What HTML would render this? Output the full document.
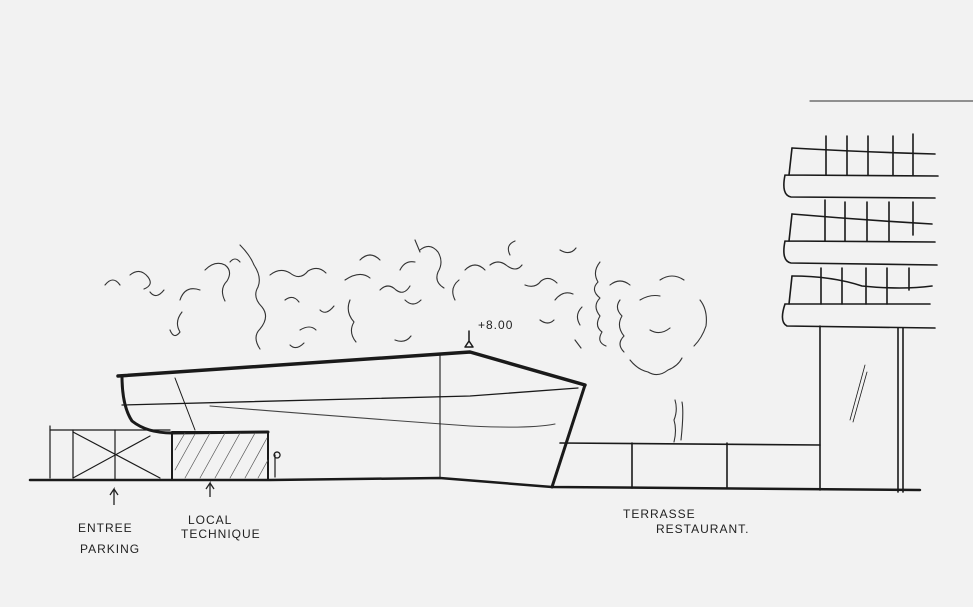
<!DOCTYPE html>
<html><head><style>
html,body{margin:0;padding:0;background:#f2f2f2;}
svg{display:block}
text{font-family:"Liberation Sans",sans-serif;fill:#222;font-size:12px;letter-spacing:1px}
</style></head><body>
<svg width="973" height="607" viewBox="0 0 973 607" xmlns="http://www.w3.org/2000/svg">
<rect width="973" height="607" fill="#f2f2f2"/>
<g stroke="#1a1a1a" fill="none" stroke-linecap="round" stroke-linejoin="round">
<!-- top right line -->
<line x1="810" y1="101" x2="973" y2="101" stroke-width="1.2" stroke="#555"/>
<!-- trees -->
<g stroke-width="1.1" stroke="#333">
<path d="M105 285 q8 -10 15 0 M130 275 q10 -8 18 2 q6 8 -4 12 M150 292 q6 8 14 -2 M170 330 q4 10 10 2 q-6 -10 2 -20 M180 300 q5 -15 20 -10 M205 270 q10 -10 20 -5 q8 6 2 16 q-8 8 -2 20 M230 262 q5 -6 10 0 M240 245 q10 10 14 20 q8 12 4 22 q-6 10 4 20 q8 10 -2 22 q-8 8 0 20"/>
<path d="M270 275 q10 -8 20 -2 q10 8 18 -2 q10 -6 18 2 M285 300 q8 -6 14 2 M300 330 q10 -6 16 0 M320 310 q6 6 14 -4 M290 345 q6 6 14 -2"/>
<path d="M350 300 q-5 12 4 22 q-6 10 2 20 M345 280 q15 -10 25 -2 M360 260 q10 -10 20 0 M380 290 q8 -8 16 0 q8 6 14 -4 M400 270 q5 -10 15 -8 M415 240 l5 12 M420 250 q10 -8 18 2 q6 10 0 20 q-4 10 6 16 M405 300 q8 8 16 0 M395 340 q10 4 16 -4"/>
<path d="M455 300 q-6 -12 4 -20 M465 270 q10 -10 20 0 M490 265 q8 -6 16 0 q10 8 16 0 M510 255 q-5 -10 5 -14 M525 285 q10 4 16 -4 q8 -6 16 2 M555 300 q8 -10 18 -6 M560 250 q10 6 16 -2 M540 320 q8 6 14 0 M575 340 l6 8 M580 325 q-6 -10 2 -18"/>
<path d="M600 262 q-8 10 -2 20 q-8 8 2 16 q-8 8 0 18 q-6 10 2 16 q-6 10 4 14 M610 285 q10 -8 20 0 M620 300 q-6 8 2 16 q-6 10 2 20 q-8 8 0 16 M640 300 q10 -6 20 -4 M660 280 q12 -8 24 0 M700 300 q8 10 6 26 q-4 12 -12 20 M650 330 q10 6 20 -2 M630 360 q8 10 18 12 q10 6 20 -2 q10 -4 14 -12 M675 400 q3 10 -1 20 q3 10 0 22 M682 402 q2 10 -1 38"/>
</g>
<!-- ground lines -->
<path d="M30 480 L170 480 L270 480 L440 478 L552 487 L920 490" stroke-width="2.5"/>
<!-- left fence -->
<g stroke-width="1.2">
<line x1="50" y1="430" x2="170" y2="430"/>
<line x1="50" y1="426" x2="50" y2="478"/>
<line x1="73" y1="430" x2="73" y2="478"/>
<line x1="115" y1="430" x2="115" y2="480"/>
<line x1="73" y1="432" x2="160" y2="478"/>
<line x1="73" y1="478" x2="150" y2="436"/>
</g>
<!-- building -->
<path d="M118 376 L470 352 L585 385" stroke-width="3.5"/>
<path d="M122 376 q0 30 10 45 q15 12 40 12 L268 432" stroke-width="3"/>
<path d="M585 385 L552 487" stroke-width="3"/>
<path d="M122 405 L470 396 L578 388" stroke-width="1.3"/>
<path d="M210 406 q120 10 260 20 q60 3 85 -2" stroke-width="1.1" stroke="#444"/>
<line x1="440" y1="355" x2="440" y2="478" stroke-width="1.1"/>
<line x1="175" y1="378" x2="195" y2="430" stroke-width="1"/>
<!-- hatched box -->
<rect x="172" y="432" width="96" height="48" stroke-width="2"/>
<g stroke-width="0.7" stroke="#555">
<path d="M175 470 l20 -36 M185 478 l25 -45 M200 478 l25 -45 M215 478 l25 -45 M230 478 l25 -45 M245 478 l22 -40 M258 478 l10 -18 M175 450 l10 -17"/>
</g>
<path d="M275 455 l0 22 M277 452 a3 3 0 1 0 0.1 0" stroke-width="1.2"/>
<!-- +8.00 marker -->
<path d="M465 347 l8 0 l-4 -6 z M469 341 l0 -10" stroke-width="1.5"/>
<!-- terrace -->
<g stroke-width="1.6">
<path d="M560 443 L820 445"/>
<line x1="632" y1="443" x2="632" y2="488"/>
<line x1="727" y1="443" x2="727" y2="488"/>
</g>
<!-- tower -->
<g stroke-width="1.6">
<line x1="820" y1="326" x2="820" y2="490"/>
<line x1="898" y1="328" x2="898" y2="492"/>
<line x1="903" y1="328" x2="903" y2="492"/>
<path d="M792 148 q70 4 143 6 M785 175 L938 176 M785 175 q-4 20 6 22 L935 198"/>
<path d="M792 148 L789 175 M826 136 L826 175 M847 136 L847 175 M868 136 L868 175 M893 136 L893 175 M913 134 L913 175"/>
<path d="M792 214 q70 6 140 10 M785 241 L935 242 M785 241 q-4 20 6 22 L937 265"/>
<path d="M792 214 L789 241 M825 200 L825 241 M845 202 L845 241 M867 202 L867 241 M889 202 L889 241 M913 202 L913 235"/>
<path d="M792 276 q40 0 70 10 q40 4 70 0 M785 304 L930 304 M785 304 q-6 18 2 22 L935 328"/>
<path d="M792 276 L789 304 M821 268 L821 304 M842 268 L842 304 M866 268 L866 304 M887 268 L887 304 M909 268 L909 290"/>
<path d="M850 420 l15 -55 M853 422 l14 -50" stroke-width="0.8"/>
</g>
</g>
<text x="478" y="329" font-size="9">+8.00</text>
<text x="78" y="532">ENTREE</text>
<text x="80" y="553">PARKING</text>
<text x="188" y="524">LOCAL</text>
<text x="181" y="538">TECHNIQUE</text>
<text x="623" y="518" font-size="11">TERRASSE</text>
<text x="656" y="533" font-size="11">RESTAURANT.</text>
<g stroke="#222" stroke-width="1.3" fill="none">
<path d="M114 505 l0 -16 l-4 6 M114 489 l4 6"/>
<path d="M210 497 l0 -14 l-4 6 M210 483 l4 6"/>
</g>
</svg>
</body></html>
